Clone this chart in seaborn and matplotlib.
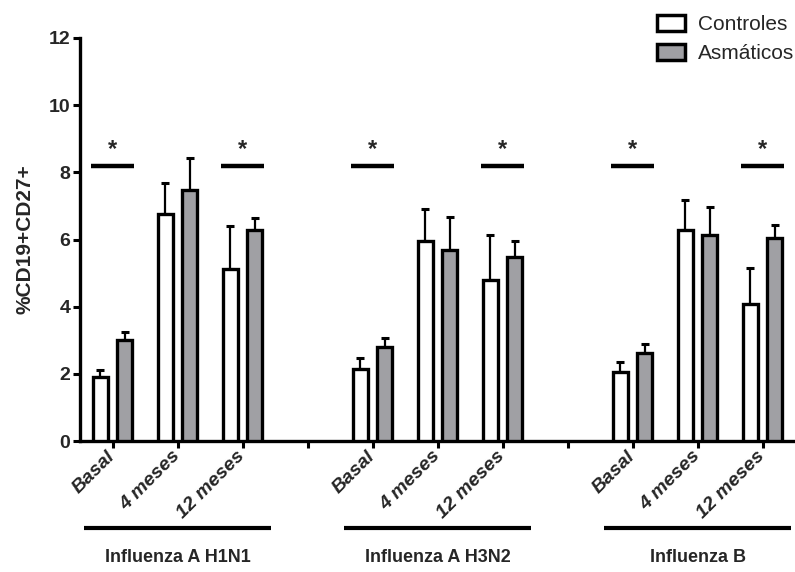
import numpy as np
import pandas as pd
import matplotlib
matplotlib.use("Agg")
import matplotlib.pyplot as plt
import matplotlib.transforms as mtransforms
from matplotlib.patches import Patch
import seaborn as sns

# ---------------- data ----------------
viruses = ["Influenza A H1N1", "Influenza A H3N2", "Influenza B"]
timepoints = ["Basal", "4 meses", "12 meses"]
groups = ["Controles", "Asmáticos"]

controles_mean = [1.90, 6.75, 5.12, 2.15, 5.97, 4.78, 2.05, 6.27, 4.07]
controles_err = [0.20, 0.93, 1.27, 0.33, 0.93, 1.36, 0.30, 0.92, 1.09]
asmaticos_mean = [3.00, 7.47, 6.27, 2.81, 5.68, 5.48, 2.63, 6.13, 6.05]
asmaticos_err = [0.24, 0.96, 0.36, 0.25, 0.99, 0.47, 0.25, 0.83, 0.37]
significant = ["Basal", "12 meses"]
sig_level = 8.2
yticks = [0, 2, 4, 6, 8, 10, 12]

# ---------------- table ----------------
rows = []
k = 0
for vi, v in enumerate(viruses):
    for ti, t in enumerate(timepoints):
        pos = 4 * vi + ti
        rows.append(dict(virus=v, time=t, pos=pos, group=groups[0],
                         value=controles_mean[k], err=controles_err[k]))
        rows.append(dict(virus=v, time=t, pos=pos, group=groups[1],
                         value=asmaticos_mean[k], err=asmaticos_err[k]))
        k += 1
df = pd.DataFrame(rows)

sns.set_theme(style="ticks")
plt.rcParams["font.family"] = ["Liberation Sans", "DejaVu Sans"]
plt.rcParams["font.weight"] = "bold"

fig = plt.figure(figsize=(7.95, 5.72), dpi=100)
W, H = 795, 572
ax = fig.add_axes([80 / W, (H - 441) / H, (W - 80) / W, (441 - 38) / H])

palette = {"Controles": "white", "Asmáticos": "#a0a0a4"}
sns.barplot(data=df, x="pos", y="value", hue="group", hue_order=groups,
            native_scale=True, palette=palette, saturation=1,
            width=0.76, gap=0.4, errorbar=None, edgecolor="black",
            linewidth=2.4, legend=False, ax=ax, zorder=3)

# error bars (upper only) on the seaborn-drawn bars
for gi, g in enumerate(groups):
    sub = df[df.group == g].sort_values("pos")
    bars = sorted(ax.containers[gi].patches, key=lambda p: p.get_x())
    xs = [b.get_x() + b.get_width() / 2 for b in bars]
    ax.errorbar(xs, sub.value.values,
                yerr=[np.zeros(len(sub)), sub.err.values],
                fmt="none", ecolor="black", elinewidth=1.6,
                capsize=3, capthick=2.2, zorder=2)

# significance bars
cbars = sorted(ax.containers[0].patches, key=lambda p: p.get_x())
abars = sorted(ax.containers[1].patches, key=lambda p: p.get_x())
sub_c = df[df.group == groups[0]].sort_values("pos").reset_index(drop=True)
for i, row in sub_c.iterrows():
    if row.time in significant:
        left = cbars[i].get_x() - 0.02
        right = abars[i].get_x() + abars[i].get_width() + 0.02
        ax.plot([left, right], [sig_level, sig_level], color="black",
                lw=3.2, solid_capstyle="butt", zorder=4)
        ax.text((left + right) / 2, sig_level + 0.15, "*", ha="center",
                va="bottom", fontsize=17, fontweight="bold")

# axes styling
ax.set_ylim(0, 12)
ax.set_xlim(-0.5, 10.5)
ax.set_yticks(yticks)
ax.set_yticklabels([str(t) for t in yticks], fontsize=14, fontweight="bold")
all_pos = list(range(11))
ax.set_xticks(all_pos)
labels = []
for p in all_pos:
    labels.append(timepoints[p % 4] if p % 4 < 3 else "")
ax.set_xticklabels(labels, rotation=45, ha="right", va="center",
                   rotation_mode="anchor", fontsize=14,
                   fontweight="bold", fontstyle="italic")
for lab in ax.get_xticklabels():
    lab.set_transform(lab.get_transform() +
                      mtransforms.ScaledTranslation(5 / 72, -8 / 72, fig.dpi_scale_trans))
ax.tick_params(axis="both", width=2.2, length=5, color="black", pad=2)
ax.tick_params(axis="x", pad=4)
for s in ["top", "right"]:
    ax.spines[s].set_visible(False)
for s in ["left", "bottom"]:
    ax.spines[s].set_linewidth(2.4)
    ax.spines[s].set_color("black")
ax.set_xlabel("")
ax.set_ylabel("%CD19+CD27+", fontsize=15, fontweight="bold", labelpad=10)

# virus group annotations below the axis
trans = mtransforms.blended_transform_factory(ax.transData, ax.transAxes)
for vi, v in enumerate(viruses):
    center = np.mean([4 * vi + t for t in range(len(timepoints))])
    ax.plot([center - 1.44, center + 1.44], [-0.216, -0.216], color="black",
            lw=3, transform=trans, clip_on=False, solid_capstyle="butt")
    ax.text(center, -0.288, v, transform=trans, ha="center", va="center",
            fontsize=13, fontweight="bold")

# legend
handles = [Patch(facecolor=palette[g], edgecolor="black", linewidth=2.5, label=g)
           for g in groups]
fig.legend(handles=handles, loc="upper left",
           bbox_to_anchor=(657 / W, 1 - 15 / H), frameon=False,
           handlelength=1.35, handleheight=0.8,
           handletextpad=0.6, labelspacing=0.45, borderpad=0,
           borderaxespad=0, prop={"weight": "normal", "size": 15})

fig.savefig("out.png", dpi=100)
